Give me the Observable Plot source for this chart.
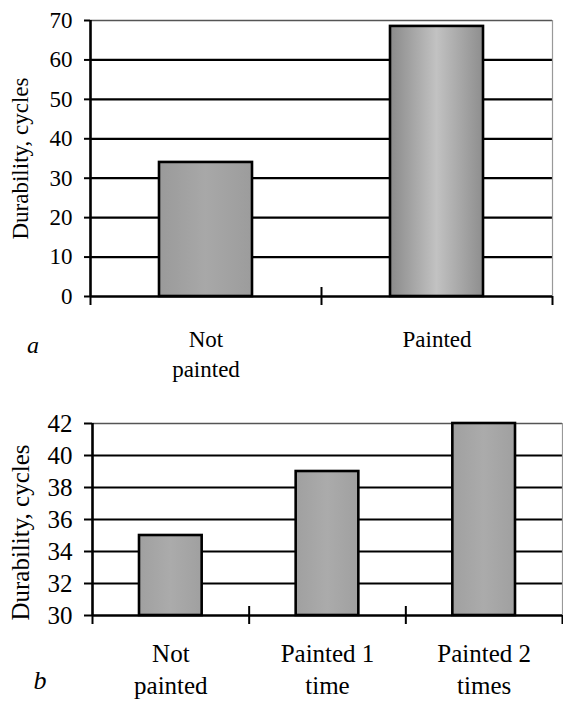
<!DOCTYPE html>
<html>
<head>
<meta charset="utf-8">
<script src="https://cdn.jsdelivr.net/npm/d3@7"></script>
<script src="https://cdn.jsdelivr.net/npm/@observablehq/plot@0.6"></script>
</head>
<body style="margin:0;padding:0;background:#fff;font-family:'Liberation Serif';">
<div id="wrap" style="position:relative;width:563px;height:701px;overflow:hidden;background:#fff;">
  <div id="pa" style="position:absolute;left:13px;top:333px;width:40px;text-align:center;font-family:'Liberation Serif';font-style:italic;font-size:24px;line-height:24px;"></div>
  <div id="pb" style="position:absolute;left:20px;top:668px;width:40px;text-align:center;font-family:'Liberation Serif';font-style:italic;font-size:26px;line-height:26px;"></div>
  <div id="b" style="position:absolute;left:0;top:380px;"></div>
  <div id="a" style="position:absolute;left:0;top:0;"></div>
</div>
<script>
// ---- data ----
const categoriesA = ["Not\npainted", "Painted"];
const valuesA = [34, 68.5];
const yTicksA = [0, 10, 20, 30, 40, 50, 60, 70];

const categoriesB = ["Not\npainted", "Painted 1\ntime", "Painted 2\ntimes"];
const valuesB = [35, 39, 42];
const yTicksB = [30, 32, 34, 36, 38, 40, 42];

const yTitle = "Durability, cycles";
const panelA = "a";
const panelB = "b";

document.getElementById("pa").textContent = panelA;
document.getElementById("pb").textContent = panelB;

const FF = "Liberation Serif";

function makeChart({cats, vals, ticks, height, marginTop, marginBottom, marginLeft, marginRight,
                    fontSize, tickSize, inset, lineHeight, labelDy, titleDy, fills}) {
  const rows = cats.map((c, i) => ({cat: c, value: vals[i], i, fill: fills[i]}));
  const lo = ticks[0], hi = ticks[ticks.length - 1];
  const bounds = d3.range(cats.length + 1);
  const inner = bounds.slice(1, -1);
  const edges = [bounds[0], bounds[bounds.length - 1]];
  return Plot.plot({
    width: 563,
    height, marginTop, marginBottom, marginLeft, marginRight,
    x: {domain: [0, cats.length], axis: null},
    y: {domain: [lo, hi], axis: null},
    color: {type: "identity"},
    marks: [
      Plot.ruleY(ticks.slice(1, -1), {stroke: "black", strokeWidth: 2.2}),
      Plot.ruleY([hi], {stroke: "#555", strokeWidth: 1.4, x1: 0, x2: cats.length}),
      Plot.ruleX([cats.length], {stroke: "#999", strokeWidth: 1.2, y1: lo, y2: hi}),
      Plot.rect(rows, {x1: d => d.i, x2: d => d.i + 1, y1: lo, y2: d => d.value,
        insetLeft: inset, insetRight: inset, fill: d => d.fill, stroke: "black", strokeWidth: 2.6}),
      Plot.ruleX([0], {stroke: "black", strokeWidth: 2.6, y1: lo, y2: hi}),
      Plot.ruleY([lo], {stroke: "black", strokeWidth: 2.6, x1: 0, x2: cats.length}),
      Plot.axisY({ticks, tickSize, tickPadding: 12, strokeWidth: 2, fontSize, fontFamily: FF, fill: "black", label: null, anchor: "left"}),
      Plot.ruleX(edges, {x: d => d, y1: lo, y2: lo, insetTop: 0, insetBottom: -9, stroke: "black", strokeWidth: 2}),
      Plot.ruleX(inner, {x: d => d, y1: lo, y2: lo, insetTop: -9, insetBottom: -9, stroke: "black", strokeWidth: 2}),
      Plot.text(rows, {x: d => d.i + 0.5, text: "cat", frameAnchor: "bottom", dy: labelDy,
        lineAnchor: "top", lineHeight, fontSize, fontFamily: FF, fill: "black"}),
      Plot.text([yTitle], {frameAnchor: "left", dx: 20 - marginLeft, dy: titleDy, rotate: -90,
        textAnchor: "middle", lineAnchor: "middle", fontSize, fontFamily: FF, fill: "black"})
    ]
  });
}

const chartA = makeChart({
  cats: categoriesA, vals: valuesA, ticks: yTicksA,
  height: 380, marginTop: 20, marginBottom: 84, marginLeft: 90, marginRight: 11,
  fontSize: 23, tickSize: 6, inset: 69, lineHeight: 1.32, labelDy: 29, titleDy: 0,
  fills: ["url(#gNot)", "url(#gPaint)"]
});
const chartB = makeChart({
  cats: categoriesB, vals: valuesB, ticks: yTicksB,
  height: 321, marginTop: 43, marginBottom: 86, marginLeft: 92, marginRight: 1,
  fontSize: 25, tickSize: 8, inset: 47, lineHeight: 1.28, labelDy: 24, titleDy: 13,
  fills: ["url(#gB)", "url(#gB)", "url(#gB)"]
});

for (const svg of [chartA, chartB]) {
  svg.style.overflow = "visible";
  svg.style.background = "transparent";
}

function addGrad(svg, id, stops) {
  let defs = d3.select(svg).select("defs");
  if (defs.empty()) defs = d3.select(svg).insert("defs", ":first-child");
  const g = defs.append("linearGradient").attr("id", id).attr("x1", "0").attr("x2", "1").attr("y1", "0").attr("y2", "0");
  stops.forEach(([o, c]) => g.append("stop").attr("offset", o).attr("stop-color", c));
}
addGrad(chartA, "gNot", [["0", "#9a9a9a"], ["0.5", "#a8a8a8"], ["1", "#9c9c9c"]]);
addGrad(chartA, "gPaint", [["0", "#8a8a8a"], ["0.5", "#c2c2c2"], ["1", "#8e8e8e"]]);
addGrad(chartB, "gB", [["0", "#a0a0a0"], ["0.5", "#ababab"], ["1", "#a0a0a0"]]);

document.getElementById("a").appendChild(chartA);
document.getElementById("b").appendChild(chartB);
</script>
</body>
</html>
